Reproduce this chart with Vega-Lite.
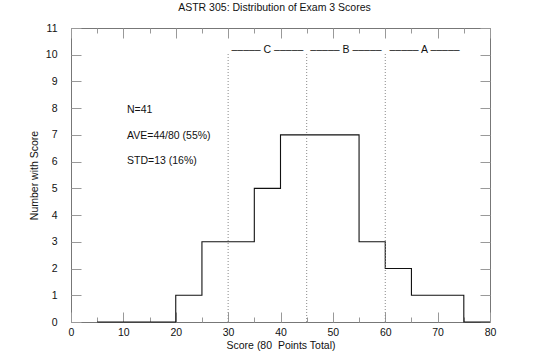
{
  "$schema": "https://vega.github.io/schema/vega-lite/v6.json",
  "width": 419,
  "height": 294,
  "autosize": {"type": "none"},
  "padding": {"left": 71, "top": 28, "right": 48, "bottom": 38},
  "background": "white",
  "title": {"text": "ASTR 305: Distribution of Exam 3 Scores", "font": "Liberation Sans", "fontSize": 10.5, "fontWeight": "normal", "color": "#111", "offset": 10, "dx": -6},
  "config": {
    "view": {"stroke": "#777", "strokeWidth": 1},
    "axis": {"labelFont": "Liberation Sans", "labelFontSize": 10.5, "labelColor": "#111", "titleFont": "Liberation Sans", "titleFontSize": 10.5, "titleFontWeight": "normal", "titleColor": "#111", "grid": false, "domain": false, "tickColor": "#999", "tickWidth": 1}
  },
  "datasets": {
    "hist": [
      {"score": 5, "count": 0},
      {"score": 20, "count": 1},
      {"score": 25, "count": 3},
      {"score": 35, "count": 5},
      {"score": 40, "count": 7},
      {"score": 55, "count": 3},
      {"score": 60, "count": 2},
      {"score": 65, "count": 1},
      {"score": 75, "count": 0},
      {"score": 80, "count": 0}
    ],
    "cuts": [
      {"score": 30, "bottom": 0, "top": 10.1},
      {"score": 45, "bottom": 0, "top": 10.1},
      {"score": 60, "bottom": 0, "top": 10.1}
    ],
    "grades": [
      {"center": 37.5, "level": 10.18, "label": "––––– C –––––"},
      {"center": 52.5, "level": 10.18, "label": "––––– B –––––"},
      {"center": 67.5, "level": 10.18, "label": "––––– A –––––"}
    ],
    "notes": [
      {"xpos": 10.7, "ypos": 7.93, "label": "N=41"},
      {"xpos": 10.7, "ypos": 6.96, "label": "AVE=44/80 (55%)"},
      {"xpos": 10.7, "ypos": 6.02, "label": "STD=13 (16%)"}
    ]
  },
  "layer": [
    {
      "data": {"name": "hist"},
      "mark": {"type": "line", "interpolate": "step-after", "color": "#111", "strokeWidth": 1.1},
      "encoding": {
        "x": {"field": "score", "type": "quantitative", "scale": {"domain": [0, 80], "nice": false, "zero": false},
          "axis": {"orient": "bottom", "values": [0, 5, 10, 15, 20, 25, 30, 35, 40, 45, 50, 55, 60, 65, 70, 75, 80],
            "tickSize": {"condition": {"test": "datum.value % 10 === 0", "value": -10}, "value": -5},
            "labelExpr": "datum.value % 10 === 0 ? datum.label : ''", "labelPadding": 15, "labelFlush": false, "labelOverlap": false,
            "title": "Score (80\u00a0 Points Total)", "titlePadding": -2}},
        "y": {"field": "count", "type": "quantitative", "scale": {"domain": [0, 11], "nice": false},
          "axis": {"orient": "left", "values": [0, 1, 2, 3, 4, 5, 6, 7, 8, 9, 10, 11], "tickSize": -10, "labelPadding": 24, "labelFlush": false, "labelOverlap": false,
            "title": "Number with Score", "titlePadding": 6}}
      }
    },
    {
      "data": {"name": "cuts"},
      "mark": {"type": "rule", "color": "#888", "strokeWidth": 1, "strokeDash": [1, 2]},
      "encoding": {
        "x": {"field": "score", "type": "quantitative", "scale": {"domain": [0, 80], "nice": false, "zero": false},
          "axis": {"orient": "top", "values": [0, 5, 10, 15, 20, 25, 30, 35, 40, 45, 50, 55, 60, 65, 70, 75, 80],
            "tickSize": {"condition": {"test": "datum.value % 10 === 0", "value": -10}, "value": -5},
            "labels": false, "title": null}},
        "y": {"field": "bottom", "type": "quantitative", "scale": {"domain": [0, 11], "nice": false},
          "axis": {"orient": "right", "values": [0, 1, 2, 3, 4, 5, 6, 7, 8, 9, 10, 11], "tickSize": -10, "labels": false, "title": null}},
        "y2": {"field": "top"}
      }
    },
    {
      "data": {"name": "grades"},
      "mark": {"type": "text", "font": "Liberation Sans", "fontSize": 10.5, "color": "#111", "align": "center", "baseline": "middle"},
      "encoding": {
        "x": {"field": "center", "type": "quantitative", "axis": null},
        "y": {"field": "level", "type": "quantitative", "axis": null},
        "text": {"field": "label"}
      }
    },
    {
      "data": {"name": "notes"},
      "mark": {"type": "text", "font": "Liberation Sans", "fontSize": 10.5, "color": "#111", "align": "left", "baseline": "middle"},
      "encoding": {
        "x": {"field": "xpos", "type": "quantitative", "axis": null},
        "y": {"field": "ypos", "type": "quantitative", "axis": null},
        "text": {"field": "label"}
      }
    }
  ],
  "resolve": {"axis": {"x": "independent", "y": "independent"}}
}
